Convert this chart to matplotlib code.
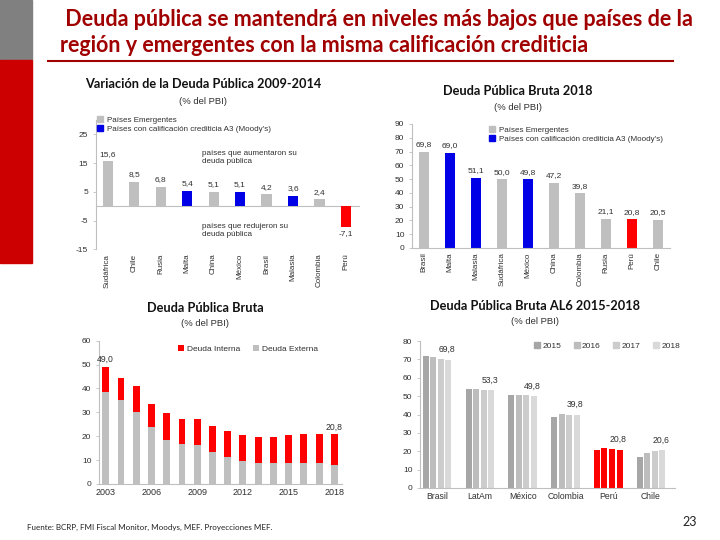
import matplotlib
matplotlib.use("Agg")
import matplotlib.pyplot as plt
from matplotlib.patches import Rectangle, Patch
import numpy as np

W, H = 720, 540
fig = plt.figure(figsize=(7.2, 5.4), dpi=100)
plt.rcParams['font.family'] = ['Liberation Sans', 'DejaVu Sans']
plt.rcParams['axes.unicode_minus'] = False

TITLE_FONT = ['Lato', 'DejaVu Sans']
GRAY = '#BFBFBF'
BLUE = '#0000E6'
RED = '#FF0000'
DARKRED = '#A00000'
AXC = '#BFBFBF'
TXT = '#303030'

# ---------------- data ----------------
var_countries = ['Sudáfrica', 'Chile', 'Rusia', 'Malta', 'China', 'México', 'Brasil', 'Malasia', 'Colombia', 'Perú']
var_values = [15.6, 8.5, 6.8, 5.4, 5.1, 5.1, 4.2, 3.6, 2.4, -7.1]
var_group = ['e', 'e', 'e', 'a3', 'e', 'a3', 'e', 'a3', 'e', 'pe']

d18_countries = ['Brasil', 'Malta', 'Malasia', 'Sudáfrica', 'México', 'China', 'Colombia', 'Rusia', 'Perú', 'Chile']
d18_values = [69.8, 69.0, 51.1, 50.0, 49.8, 47.2, 39.8, 21.1, 20.8, 20.5]
d18_group = ['e', 'a3', 'a3', 'e', 'a3', 'e', 'e', 'e', 'pe', 'e']

years = list(range(2003, 2019))
deuda_externa = [38.7, 35.2, 30.2, 24.0, 18.5, 16.9, 16.2, 13.2, 11.3, 9.7, 8.9, 8.8, 8.6, 8.6, 8.6, 8.1]
deuda_interna = [10.3, 9.2, 10.9, 9.6, 11.3, 10.3, 11.1, 11.2, 10.7, 10.8, 10.9, 11.0, 12.0, 12.4, 12.4, 12.7]
year_ticks = [2003, 2006, 2009, 2012, 2015, 2018]

al6_countries = ['Brasil', 'LatAm', 'México', 'Colombia', 'Perú', 'Chile']
al6_years = ['2015', '2016', '2017', '2018']
al6_2015 = [72.0, 53.7, 50.5, 38.8, 20.9, 17.1]
al6_2016 = [71.4, 53.8, 50.6, 40.4, 21.7, 18.9]
al6_2017 = [70.3, 53.4, 50.5, 39.8, 21.2, 20.1]
al6_2018 = [69.8, 53.3, 49.8, 39.8, 20.8, 20.6]

group_color = {'e': GRAY, 'a3': BLUE, 'pe': RED}


def fmt(v):
    return f"{v:.1f}".replace('.', ',')


def rect(l, t, r, b):
    return [l / W, 1 - b / H, (r - l) / W, (b - t) / H]


def fx(x):
    return x / W


def fy(y):
    return 1 - y / H


def style_axes(ax):
    for s in ['top', 'right']:
        ax.spines[s].set_visible(False)
    ax.spines['left'].set_color(AXC)
    ax.spines['bottom'].set_color(AXC)
    ax.spines['left'].set_linewidth(0.8)
    ax.spines['bottom'].set_linewidth(0.8)
    ax.tick_params(axis='y', colors=AXC, labelcolor=TXT, labelsize=6, length=2.5, width=0.6, pad=3)
    ax.tick_params(axis='x', colors=AXC, labelcolor=TXT, labelsize=5.8, length=0, pad=3)
    ax.patch.set_alpha(0)


# ---------------- decorations ----------------
fig.patches.append(Rectangle((0, fy(60)), fx(32), 60 / H, transform=fig.transFigure, color='#808080', zorder=0))
fig.patches.append(Rectangle((0, fy(263)), fx(32), (263 - 60) / H, transform=fig.transFigure, color='#CC0000', zorder=0))
fig.text(fx(60), fy(20), ' Deuda pública se mantendrá en niveles más bajos que países de la',
         family=TITLE_FONT, fontweight='bold', fontsize=15.5, color=DARKRED, ha='left', va='center')
fig.text(fx(60), fy(45), 'región y emergentes con la misma calificación crediticia',
         family=TITLE_FONT, fontweight='bold', fontsize=15.5, color=DARKRED, ha='left', va='center')
fig.add_artist(plt.Line2D([fx(48), fx(673)], [fy(61), fy(61)], transform=fig.transFigure, color=DARKRED, lw=1.5))

fig.text(fx(27), fy(527), 'Fuente: BCRP, FMI Fiscal Monitor, Moodys, MEF. Proyecciones MEF.',
         family=TITLE_FONT, fontsize=5.8, color='#222222', ha='left', va='center')
fig.text(fx(697), fy(522), '23', family=TITLE_FONT, fontsize=9, color='#222222', ha='right', va='center')

# ---------------- chart 1 ----------------
fig.text(fx(203), fy(84), 'Variación de la Deuda Pública 2009-2014', family=TITLE_FONT, fontweight='bold',
         fontsize=9.2, ha='center', va='center', color='#111111')
fig.text(fx(203), fy(101), '(% del PBI)', fontsize=6.8, ha='center', va='center', color=TXT)
ax1 = fig.add_axes(rect(95.7, 120, 360, 249.5))
x1 = np.arange(len(var_countries))
ax1.bar(x1, var_values, width=0.38, color=[group_color[g] for g in var_group], zorder=2)
ax1.axhline(0, color=AXC, lw=0.8, zorder=1)
ax1.set_ylim(-15, 30)
ax1.set_xlim(-0.45, 9.53)
ax1.set_yticks([25, 15, 5, -5, -15])
ax1.set_xticks(x1)
ax1.set_xticklabels(var_countries, rotation=90)
style_axes(ax1)
ax1.spines['bottom'].set_visible(False)
for xi, v in zip(x1, var_values):
    if v >= 0:
        ax1.annotate(fmt(v), (xi, v), xytext=(0, 2.5), textcoords='offset points', ha='center', va='bottom',
                     fontsize=6, color=TXT)
    else:
        ax1.annotate(fmt(v), (xi, v), xytext=(0, -2.5), textcoords='offset points', ha='center', va='top',
                     fontsize=6, color=TXT)
ax1.text(3.55, 19.5, 'países que aumentaron su\ndeuda pública', fontsize=5.8, color=TXT, ha='left', va='top',
         linespacing=1.1)
ax1.text(3.55, -5.8, 'países que redujeron su\ndeuda pública', fontsize=5.8, color=TXT, ha='left', va='top',
         linespacing=1.1)
ax1.legend(handles=[Patch(color=GRAY, label='Países Emergentes'),
                    Patch(color=BLUE, label="Países con calificación crediticia A3 (Moody's)")],
           loc='upper left', bbox_to_anchor=(fx(97), fy(116)), bbox_transform=fig.transFigure,
           frameon=False, fontsize=5.8, handlelength=0.7, handleheight=0.7, handletextpad=0.5,
           labelspacing=0.2, borderpad=0, borderaxespad=0, labelcolor=TXT)

# ---------------- chart 2 ----------------
fig.text(fx(518), fy(91), 'Deuda Pública Bruta 2018', family=TITLE_FONT, fontweight='bold',
         fontsize=9.2, ha='center', va='center', color='#111111')
fig.text(fx(518), fy(107), '(% del PBI)', fontsize=6.8, ha='center', va='center', color=TXT)
ax2 = fig.add_axes(rect(412, 124, 670, 248))
x2 = np.arange(len(d18_countries))
ax2.bar(x2, d18_values, width=0.36, color=[group_color[g] for g in d18_group], zorder=2)
ax2.set_ylim(0, 90)
ax2.set_xlim(-0.46, 9.46)
ax2.set_yticks(np.arange(0, 91, 10))
ax2.set_xticks(x2)
ax2.set_xticklabels(d18_countries, rotation=90)
style_axes(ax2)
for xi, v in zip(x2, d18_values):
    ax2.annotate(fmt(v), (xi, v), xytext=(0, 2.5), textcoords='offset points', ha='center', va='bottom',
                 fontsize=6, color=TXT)
ax2.legend(handles=[Patch(color=GRAY, label='Países Emergentes'),
                    Patch(color=BLUE, label="Países con calificación crediticia A3 (Moody's)")],
           loc='upper left', bbox_to_anchor=(fx(489), fy(126)), bbox_transform=fig.transFigure,
           frameon=False, fontsize=5.8, handlelength=0.7, handleheight=0.7, handletextpad=0.5,
           labelspacing=0.2, borderpad=0, borderaxespad=0, labelcolor=TXT)

# ---------------- chart 3 ----------------
fig.text(fx(205), fy(308), 'Deuda Pública Bruta', family=TITLE_FONT, fontweight='bold',
         fontsize=9.2, ha='center', va='center', color='#111111')
fig.text(fx(205), fy(324), '(% del PBI)', fontsize=6.8, ha='center', va='center', color=TXT)
ax3 = fig.add_axes(rect(99, 340.7, 342, 484))
x3 = np.arange(len(years))
ax3.bar(x3, deuda_externa, width=0.45, color=GRAY, zorder=2, label='Deuda Externa')
ax3.bar(x3, deuda_interna, width=0.45, bottom=deuda_externa, color=RED, zorder=2, label='Deuda Interna')
ax3.set_ylim(0, 60)
ax3.set_xlim(-0.44, 15.5)
ax3.set_yticks(np.arange(0, 61, 10))
ax3.set_xticks([years.index(y) for y in year_ticks])
ax3.set_xticklabels([str(y) for y in year_ticks])
style_axes(ax3)
ax3.tick_params(axis='x', labelsize=6.5)
tot = [e + i for e, i in zip(deuda_externa, deuda_interna)]
for idx in [0, len(years) - 1]:
    ax3.annotate(fmt(tot[idx]), (x3[idx], tot[idx]), xytext=(0, 2), textcoords='offset points',
                 ha='center', va='bottom', fontsize=6.2, color=TXT)
h, l = ax3.get_legend_handles_labels()
ax3.legend([h[1], h[0]], [l[1], l[0]], ncol=2, loc='upper left', bbox_to_anchor=(fx(178), fy(345)),
           bbox_transform=fig.transFigure, frameon=False, fontsize=6, handlelength=0.7, handleheight=0.7,
           handletextpad=0.4, columnspacing=1.5, borderpad=0, borderaxespad=0, labelcolor=TXT)

# ---------------- chart 4 ----------------
fig.text(fx(535), fy(306), 'Deuda Pública Bruta AL6 2015-2018', family=TITLE_FONT, fontweight='bold',
         fontsize=9.2, ha='center', va='center', color='#111111')
fig.text(fx(535), fy(322), '(% del PBI)', fontsize=6.8, ha='center', va='center', color=TXT)
ax4 = fig.add_axes(rect(420, 341, 675, 488))
x4 = np.arange(len(al6_countries))
series = [al6_2015, al6_2016, al6_2017, al6_2018]
year_colors = ['#A6A6A6', '#BDBDBD', '#CCCCCC', '#D9D9D9']
offs = [-1.5, -0.5, 0.5, 1.5]
step = 0.177
for s, c, o, yl in zip(series, year_colors, offs, al6_years):
    cols = [RED if n == 'Perú' else c for n in al6_countries]
    ax4.bar(x4 + o * step, s, width=0.14, color=cols, zorder=2, label=yl)
ax4.set_ylim(0, 80)
ax4.set_xlim(-0.4, 5.56)
ax4.set_yticks(np.arange(0, 81, 10))
ax4.set_xticks(x4)
ax4.set_xticklabels(al6_countries)
style_axes(ax4)
ax4.tick_params(axis='x', labelsize=6.2)
for xi, v in zip(x4, al6_2018):
    ax4.annotate(fmt(v), (xi + 1.3 * step, v), xytext=(0, 4), textcoords='offset points',
                 ha='center', va='bottom', fontsize=6.2, color=TXT)
hh = [Patch(color=c) for c in year_colors]
ax4.legend(hh, al6_years, ncol=4, loc='upper left', bbox_to_anchor=(fx(534), fy(342)),
           bbox_transform=fig.transFigure, frameon=False, fontsize=6, handlelength=0.7, handleheight=0.7,
           handletextpad=0.3, columnspacing=1.5, borderpad=0, borderaxespad=0, labelcolor=TXT)

fig.savefig('out.png', dpi=100)
